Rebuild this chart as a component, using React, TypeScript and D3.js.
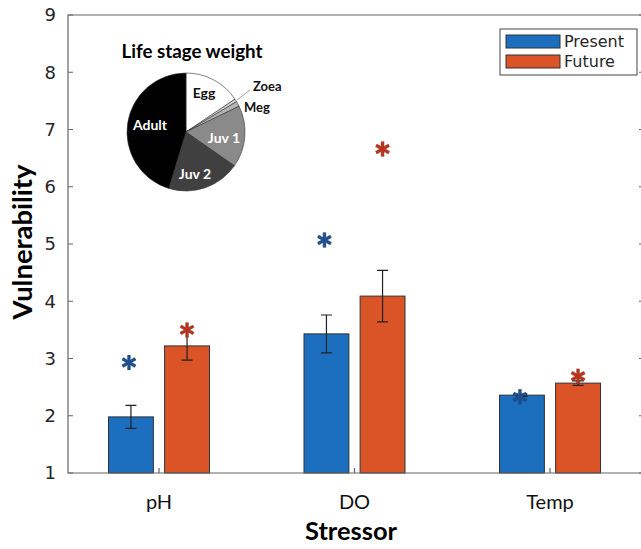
import * as d3 from "d3";

const stressors = ["pH", "DO", "Temp"];
const groups = ["Present", "Future"];
const presentMean = [1.98, 3.43, 2.36];
const presentErr = [0.2, 0.33, 0.02];
const futureMean = [3.22, 4.09, 2.57];
const futureErr = [0.25, 0.45, 0.04];
const presentStar = [2.93, 5.07, 2.33];
const futureStar = [3.5, 6.66, 2.69];
const yTicks = [1, 2, 3, 4, 5, 6, 7, 8, 9];

const lifeStages = ["Egg", "Zoea", "Meg", "Juv 1", "Juv 2", "Adult"];
const lifeWeights = [15.6, 0.8, 1.4, 16.9, 20.0, 45.3];

const COLORS = {
  present: "#1c6fbf",
  future: "#da5427",
  presentStar: "#1b4f8f",
  futureStar: "#b8321c",
  axis: "#666666",
  text: "#262626",
};
const PIE_FILLS = ["#ffffff", "#d4d4d4", "#b4b4b4", "#8a8a8a", "#404040", "#000000"];
const PIE_TEXT = ["#111", "", "", "#fff", "#fff", "#fff"];

const W = 641;
const H = 549;
const left = 68;
const right = 645;
const top = 15;
const bottom = 473;

const Asterisk = ({ x, y, color }: { x: number; y: number; color: string }) => {
  const r = 7.5;
  const arms = [90, 30, 150].map((a) => {
    const t = (a * Math.PI) / 180;
    return `M${x - r * Math.cos(t)},${y - r * Math.sin(t)}L${x + r * Math.cos(t)},${y + r * Math.sin(t)}`;
  });
  return (
    <g>
      <path d={arms.join("")} stroke="#222" strokeWidth={4} opacity={0.35} />
      <path d={arms.join("")} stroke={color} strokeWidth={2.8} />
    </g>
  );
};

export default function App() {
  const y = d3.scaleLinear().domain([1, 9]).range([bottom, top]);
  const x = d3.scalePoint().domain(stressors).range([159, 550]);
  const sub = d3.scaleBand().domain(groups).range([-50.5, 50.5]).paddingInner(0.2);

  const series = [
    { key: "Present", mean: presentMean, err: presentErr, star: presentStar, fill: COLORS.present, sc: COLORS.presentStar },
    { key: "Future", mean: futureMean, err: futureErr, star: futureStar, fill: COLORS.future, sc: COLORS.futureStar },
  ];

  // pie inset
  const pieCx = 186;
  const pieCy = 132;
  const pieR = 59;
  const pie = d3.pie<number>().sort(null).value((d) => d)(lifeWeights);
  const arc = d3.arc<d3.PieArcDatum<number>>().innerRadius(0).outerRadius(pieR);
  const labelPos: Record<string, [number, number]> = {
    Egg: [204, 93],
    Adult: [150, 125],
    "Juv 1": [224, 138],
    "Juv 2": [195, 174],
  };

  return (
    <svg width={W} height={H} style={{ position: "absolute", left: 0, top: 0, background: "#fff" }}>
      <rect width={W} height={H} fill="#fff" />

      {/* bars */}
      {series.map((s) =>
        stressors.map((c, i) => {
          const bx = (x(c) as number) + (sub(s.key) as number);
          const bw = sub.bandwidth();
          const cx = bx + bw / 2;
          return (
            <g key={s.key + c}>
              <rect x={bx} y={y(s.mean[i])} width={bw} height={y(1) - y(s.mean[i])} fill={s.fill} stroke="#333" strokeWidth={1} />
              <path
                d={`M${cx},${y(s.mean[i] - s.err[i])}V${y(s.mean[i] + s.err[i])}M${cx - 5.5},${y(s.mean[i] - s.err[i])}H${cx + 5.5}M${cx - 5.5},${y(s.mean[i] + s.err[i])}H${cx + 5.5}`}
                stroke="#222"
                strokeWidth={1.2}
                fill="none"
              />
              <Asterisk x={cx - (s.key === "Present" ? 2 : 0)} y={y(s.star[i])} color={s.sc} />
            </g>
          );
        })
      )}

      {/* axes box */}
      <g stroke={COLORS.axis} strokeWidth={1.2} fill="none">
        <path d={`M${left},${top}H${right}V${bottom}H${left}Z`} />
        {yTicks.map((t) => (
          <path key={t} d={`M${left},${y(t)}h5M${right},${y(t)}h-6`} />
        ))}
        {stressors.map((c) => (
          <path key={c} d={`M${x(c)},${bottom}v-5`} />
        ))}
      </g>
      {yTicks.map((t) => (
        <text key={t} x={56} y={y(t)} dy="0.36em" textAnchor="end" fontFamily="DejaVu Sans" fontSize={18} fill={COLORS.text}>
          {t}
        </text>
      ))}
      {stressors.map((c) => (
        <text key={c} x={x(c)} y={509} textAnchor="middle" fontFamily="Lato" fontSize={20} fill="#111">
          {c}
        </text>
      ))}
      <text x={351} y={540} textAnchor="middle" fontFamily="Lato" fontWeight="bold" fontSize={25} textLength={92} lengthAdjust="spacingAndGlyphs" fill="#000">
        Stressor
      </text>
      <text
        transform="translate(32,242) rotate(-90)"
        textAnchor="middle"
        fontFamily="Lato"
        fontWeight="bold"
        fontSize={26}
        textLength={155}
        lengthAdjust="spacingAndGlyphs"
        fill="#000"
      >
        Vulnerability
      </text>

      {/* legend */}
      <rect x={500} y={29} width={137} height={46} fill="#fff" stroke="#444" strokeWidth={1} />
      {series.map((s, i) => (
        <g key={s.key}>
          <rect x={506} y={35 + i * 20} width={54} height={13} fill={s.fill} stroke="#333" strokeWidth={1} />
          <text x={564} y={41.5 + i * 20} dy="0.36em" fontFamily="DejaVu Sans" fontSize={16} fill={COLORS.text}>
            {s.key}
          </text>
        </g>
      ))}

      {/* life stage pie */}
      <text x={192} y={58} textAnchor="middle" fontFamily="Lato" fontWeight="bold" fontSize={18} textLength={141} lengthAdjust="spacingAndGlyphs" fill="#000">
        Life stage weight
      </text>
      <g transform={`translate(${pieCx},${pieCy})`}>
        {pie.map((p, i) => (
          <path key={lifeStages[i]} d={arc(p) as string} fill={PIE_FILLS[i]} stroke="#333" strokeWidth={0.6} />
        ))}
      </g>
      {lifeStages.map((s, i) =>
        labelPos[s] ? (
          <text key={s} x={labelPos[s][0]} y={labelPos[s][1]} dy="0.35em" textAnchor="middle" fontFamily="Lato" fontWeight="bold" fontSize={14} fill={PIE_TEXT[i]}>
            {s}
          </text>
        ) : null
      )}
      <path d="M237,100L250,90" stroke="#888" strokeWidth={0.8} fill="none" />
      <text x={253} y={86} dy="0.35em" fontFamily="Lato" fontWeight="bold" fontSize={13} fill="#111">
        Zoea
      </text>
      <text x={244} y={107} dy="0.35em" fontFamily="Lato" fontWeight="bold" fontSize={13} fill="#111">
        Meg
      </text>
    </svg>
  );
}
